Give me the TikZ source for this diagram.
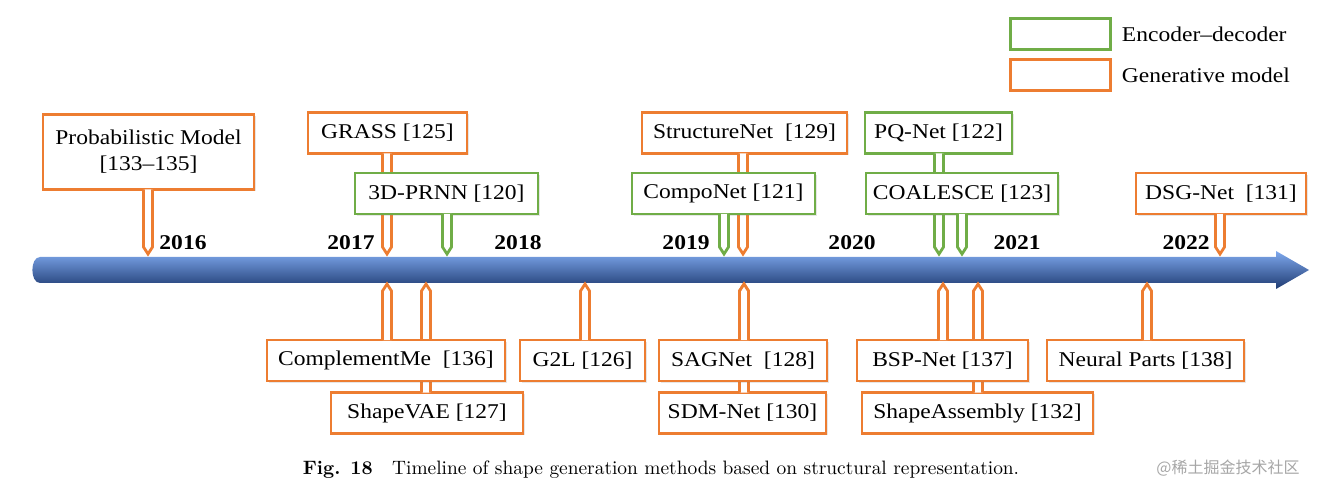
\documentclass[tikz,border=0pt]{standalone}
\usepackage{fontspec}
\setmainfont[FakeStretch=1.12]{Liberation Serif}
\newfontfamily\capfont{Latin Modern Roman}
\newfontfamily\cjkfont{Noto Sans CJK SC}
\usetikzlibrary{calc,shadows,positioning}
\definecolor{encgreen}{HTML}{70AD47}
\definecolor{genorange}{HTML}{ED7D31}
\definecolor{tlLight}{HTML}{7FA9EE}
\definecolor{tlMid}{HTML}{3F6CC0}
\definecolor{tlDark}{HTML}{1F3B72}
\newcommand{\boxfont}{\fontsize{10.5}{13}\selectfont}

\tikzset{
  mbox/.style={draw, fill=white, line width=1.4pt, inner sep=0pt, minimum height=20.5pt, font=\boxfont,
    drop shadow={opacity=0.2, shadow xshift=0.8pt, shadow yshift=-0.8pt}},
  ebox/.style={mbox, draw=encgreen},
  gbox/.style={mbox, draw=genorange},
  legbox/.style={draw, line width=1.4pt, minimum width=50pt, minimum height=15.5pt, inner sep=0pt},
  stemdn/.style={line width=1.4pt, fill=white, to path={($(\tikztostart)+(-4.5,-1.5)$) -- ($(\tikztotarget)+(-4.5,-7)$)
    -- (\tikztotarget) -- ($(\tikztotarget)+(4.5,-7)$) -- ($(\tikztostart)+(4.5,-1.5)$)}},
  stemup/.style={line width=1.4pt, fill=white, to path={($(\tikztostart)+(-4.5,1.5)$) -- ($(\tikztotarget)+(-4.5,7)$)
    -- (\tikztotarget) -- ($(\tikztotarget)+(4.5,7)$) -- ($(\tikztostart)+(4.5,1.5)$)}},
  year/.style={font=\boxfont\bfseries},
}

\begin{document}
\begin{tikzpicture}[x=0.5pt,y=-0.5pt]
\useasboundingbox (0,0) rectangle (1325,496);

% legend
\node[legbox, draw=encgreen] (legEnc) at (1060.5,34) {};
\node[legbox, draw=genorange] (legGen) at (1060.5,75) {};
\node[right=1.5pt of legEnc, font=\boxfont] (legEncT) {Encoder--decoder};
\node[right=1.5pt of legGen, font=\boxfont] (legGenT) {Generative model};

% timeline
\shade[top color=tlLight, middle color=tlMid, bottom color=tlDark]
  (40,257) -- (1276,257) -- (1276,251) -- (1309,270) -- (1276,289) -- (1276,283)
  -- (40,283) to[out=180,in=180] cycle;

% years
\node[year] (y16) at (183,243) {2016};
\node[year] (y17) at (351,243) {2017};
\node[year] (y18) at (518,243) {2018};
\node[year] (y19) at (686,243) {2019};
\node[year] (y20) at (852,243) {2020};
\node[year] (y21) at (1017,243) {2021};
\node[year] (y22) at (1186,243) {2022};

% tips on the timeline
\coordinate (tProb) at (148,254);
\coordinate (tGrass) at (387,254);
\coordinate (tPrnn) at (447,254);
\coordinate (tStruct) at (743,254);
\coordinate (tCompo) at (724,254);
\coordinate (tPq) at (939,254);
\coordinate (tCoal) at (962,254);
\coordinate (tDsg) at (1220,254);
\coordinate (tCompl) at (387,284);
\coordinate (tVae) at (426,284);
\coordinate (tG2l) at (585,284);
\coordinate (tSag) at (744,284);
\coordinate (tSdm) at (744,284);
\coordinate (tBsp) at (943,284);
\coordinate (tSa) at (978,284);
\coordinate (tNp) at (1147,284);

% above the timeline
\node[gbox, minimum width=105.5pt, minimum height=37.5pt, align=center] (prob) at (148.5,152) {Probabilistic Model\\{}[133--135]};
\draw[stemdn, draw=genorange] (prob.south -| tProb) to (tProb);
\node[gbox, minimum width=79.5pt] (grass) at (387.5,133) {GRASS [125]};
\draw[stemdn, draw=genorange] (grass.south -| tGrass) to (tGrass);
\node[ebox, minimum width=91.5pt] (prnn) at (446.5,193.5) {3D-PRNN [120]};
\draw[stemdn, draw=encgreen] (prnn.south -| tPrnn) to (tPrnn);
\node[gbox, minimum width=102.5pt] (struct) at (744.5,133) {StructureNet\ \ [129]};
\draw[stemdn, draw=genorange] (struct.south -| tStruct) to (tStruct);
\node[ebox, minimum width=91.5pt] (compo) at (723.5,193.5) {CompoNet [121]};
\draw[stemdn, draw=encgreen] (compo.south -| tCompo) to (tCompo);
\node[ebox, minimum width=73.5pt] (pq) at (938.5,133) {PQ-Net [122]};
\draw[stemdn, draw=encgreen] (pq.south -| tPq) to (tPq);
\node[ebox, minimum width=96pt] (coal) at (962,193.5) {COALESCE [123]};
\draw[stemdn, draw=encgreen] (coal.south -| tCoal) to (tCoal);
\node[gbox, minimum width=85pt] (dsg) at (1221,193.5) {DSG-Net\ \ [131]};
\draw[stemdn, draw=genorange] (dsg.south -| tDsg) to (tDsg);

% below the timeline
\node[gbox, minimum width=96pt] (vae) at (427,413) {ShapeVAE [127]};
\draw[stemup, draw=genorange] (vae.north -| tVae) to (tVae);
\node[gbox, minimum width=119pt] (compl) at (386,360.5) {ComplementMe\ \ [136]};
\draw[stemup, draw=genorange] (compl.north -| tCompl) to (tCompl);
\node[gbox, minimum width=62.5pt] (g2l) at (582.5,360.5) {G2L [126]};
\draw[stemup, draw=genorange] (g2l.north -| tG2l) to (tG2l);
\node[gbox, minimum width=83.5pt] (sdm) at (742.5,413) {SDM-Net [130]};
\draw[stemup, draw=genorange] (sdm.north -| tSdm) to (tSdm);
\node[gbox, minimum width=84pt] (sag) at (743,360.5) {SAGNet\ \ [128]};
\draw[stemup, draw=genorange] (sag.north -| tSag) to (tSag);
\node[gbox, minimum width=115.5pt] (sa) at (977.5,413) {ShapeAssembly [132]};
\draw[stemup, draw=genorange] (sa.north -| tSa) to (tSa);
\node[gbox, minimum width=85.5pt] (bsp) at (942.5,360.5) {BSP-Net [137]};
\draw[stemup, draw=genorange] (bsp.north -| tBsp) to (tBsp);
\node[gbox, minimum width=98.5pt] (np) at (1145.5,360.5) {Neural Parts [138]};
\draw[stemup, draw=genorange] (np.north -| tNp) to (tNp);

% caption
\node[font=\capfont\fontsize{9.7}{11}\selectfont] (cap) at (661,470) {\textbf{Fig. 18}\quad Timeline of shape generation methods based on structural representation.};
\node[font=\cjkfont\fontsize{8}{10}\selectfont, text=black!35] (wm) at (1228,468) {@稀土掘金技术社区};
\end{tikzpicture}
\end{document}
